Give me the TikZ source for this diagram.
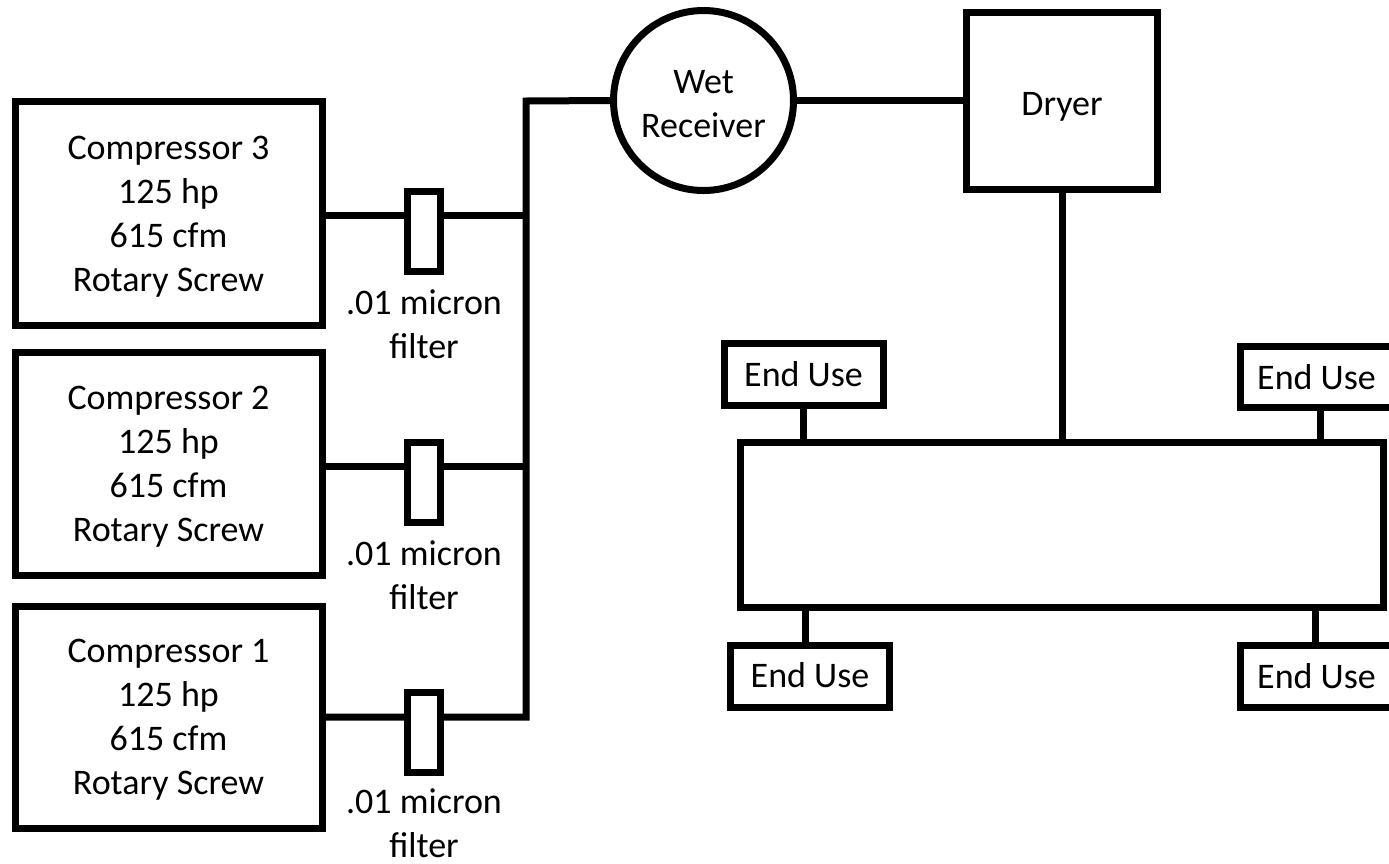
\documentclass[tikz,border=0pt]{standalone}
\usepackage{fontspec}
\setmainfont{Carlito}
\begin{document}
\begin{tikzpicture}[x=1pt,y=-1pt,
  txt/.style={font=\fontsize{36}{44}\selectfont},
  box/.style={draw, line width=7pt, rectangle, inner sep=0pt, fill=white},
  filt/.style={draw, line width=7pt, rectangle, fill=white, minimum width=33pt, minimum height=80pt, inner sep=0pt},
  lbl/.style={align=center, inner sep=0pt, txt},
  pipe/.style={line width=7pt, line join=miter}]
\useasboundingbox (0,0) rectangle (1389,863);
\clip (0,0) rectangle (1389,863);
% coordinates for junctions
\coordinate (j3) at (526,215);
\coordinate (j2) at (526,466);
\coordinate (j1) at (526,717);
\coordinate (btop) at (526,101);
\coordinate (k3) at (805.5,620);
\coordinate (k4) at (1315,620);
% boxes
\node[box, minimum width=307pt, minimum height=223.5pt] (c3) at (168.5,213.25) {};
\node[box, minimum width=307pt, minimum height=223pt] (c2) at (168.5,464) {};
\node[box, minimum width=307pt, minimum height=222pt] (c1) at (168.5,717) {};
\node[box, circle, minimum size=180pt] (wr) at (703.5,100.5) {};
\node[box, minimum width=191pt, minimum height=177pt] (dryer) at (1062,101) {};
\node[box, minimum width=643.5pt, minimum height=165.5pt] (hdr) at (1061.75,524.75) {};
\node[box, minimum width=159pt, minimum height=62pt] (eu1) at (803.5,374.5) {};
\node[box, minimum width=159pt, minimum height=60.5pt] (eu2) at (1320,376.75) {};
\node[box, minimum width=158.5pt, minimum height=62pt] (eu3) at (810,676) {};
\node[box, minimum width=159pt, minimum height=62pt] (eu4) at (1320,676) {};
% texts
\node[lbl] (tc3) at ([yshift=-3pt]c3.center) {Compressor 3\\125 hp\\615 cfm\\Rotary Screw};
\node[lbl] (tc2) at ([yshift=-3pt]c2.center) {Compressor 2\\125 hp\\615 cfm\\Rotary Screw};
\node[lbl] (tc1) at ([yshift=-3pt]c1.center) {Compressor 1\\125 hp\\615 cfm\\Rotary Screw};
\node[lbl] (twr) at ([yshift=-4pt]wr.center) {Wet\\Receiver};
\node[lbl] (tdr) at ([yshift=-6pt]dryer.center) {Dryer};
\node[lbl] (teu1) at (eu1.center) {End Use};
\node[lbl] (teu2) at ([xshift=-3.5pt]eu2.center) {End Use};
\node[lbl] (teu3) at ([yshift=1pt]eu3.center) {End Use};
\node[lbl] (teu4) at ([xshift=-3.5pt]eu4.center) {End Use};
% pipes
\draw[pipe] (c3.east |- j3) -- (j3);
\draw[pipe] (c2.east |- j2) -- (j2);
\draw[pipe] (c1.east |- j1) -- (j1) -- (btop) -- (wr.west);
\draw[pipe] (wr.east) -- (wr.east -| dryer.west);
\draw[pipe] (dryer.south) -- (dryer.south |- hdr.north);
\draw[pipe] (eu1.south) -- (eu1.south |- hdr.north);
\draw[pipe] (eu2.south) -- (eu2.south |- hdr.north);
\draw[pipe] (k3 |- hdr.south) -- (k3 |- eu3.north);
\draw[pipe] (k4 |- hdr.south) -- (k4 |- eu4.north);
% filters
\node[filt] (f3) at (424,231) {};
\node[filt] (f2) at (424,482) {};
\node[filt] (f1) at (424,732) {};
\node[lbl] (l3) at (424,324) {.01 micron\\filter};
\node[lbl] (l2) at (424,575) {.01 micron\\filter};
\node[lbl] (l1) at (424,823) {.01 micron\\filter};
\end{tikzpicture}
\end{document}
